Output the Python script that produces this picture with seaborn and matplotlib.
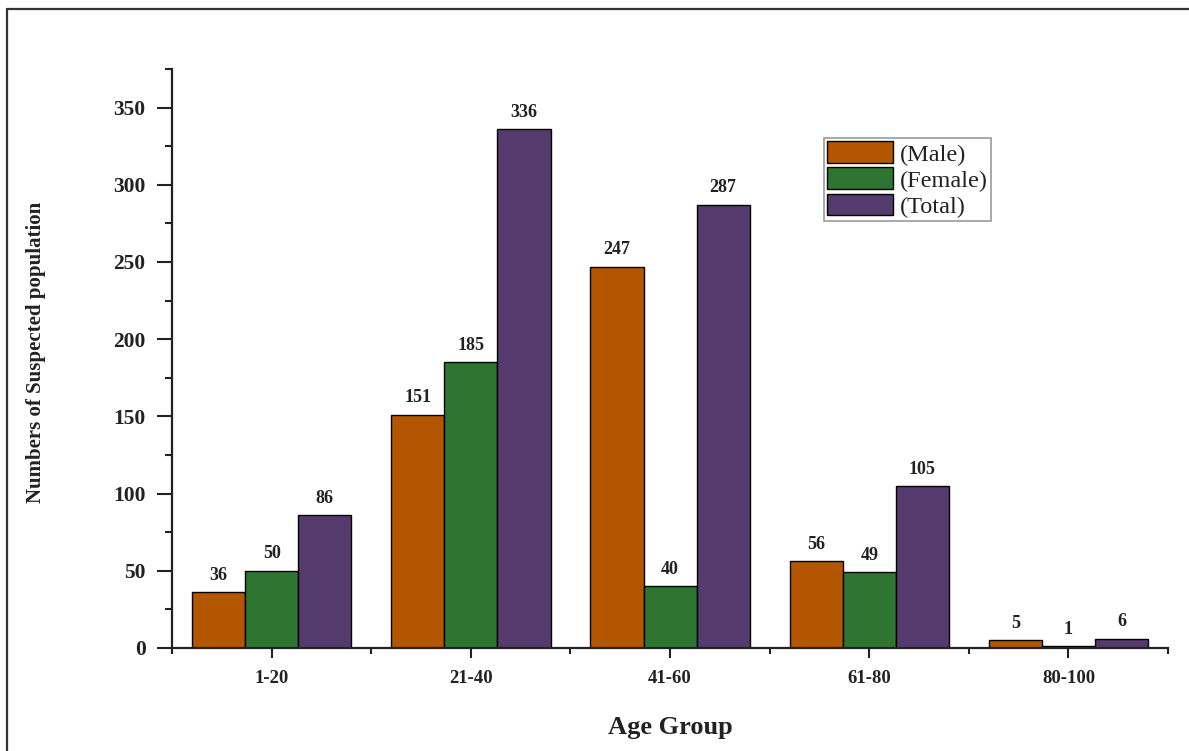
"""Suspected population by age group and sex, grouped bar chart."""

import matplotlib

matplotlib.use("Agg")

import matplotlib.pyplot as plt
import pandas as pd
import seaborn as sns
from matplotlib.lines import Line2D
from matplotlib.ticker import MultipleLocator

age_groups = ["1-20", "21-40", "41-60", "61-80", "80-100"]
series_names = ["(Male)", "(Female)", "(Total)"]
male = [36, 151, 247, 56, 5]
female = [50, 185, 40, 49, 1]
total = [86, 336, 287, 105, 6]
colors = ["#B45500", "#2E7531", "#553A6E"]

sns.set_theme(style="ticks")
plt.rcParams.update(
    {
        "font.family": ["Liberation Serif", "DejaVu Serif"],
        "font.weight": "bold",
        "text.color": "#222222",
        "axes.labelcolor": "#222222",
        "xtick.color": "#222222",
        "ytick.color": "#222222",
        "axes.edgecolor": "#222222",
    }
)

df = pd.DataFrame(
    {
        "age": age_groups * 3,
        "count": male + female + total,
        "series": [s for s in series_names for _ in age_groups],
    }
)

fig = plt.figure(figsize=(11.89, 7.51), dpi=100)
ax = fig.add_axes([0.1447, 0.1372, 0.8377, 0.7710])

sns.barplot(
    data=df,
    x="age",
    y="count",
    hue="series",
    hue_order=series_names,
    palette=colors,
    saturation=1,
    width=0.8,
    edgecolor="black",
    linewidth=1,
    ax=ax,
)

for container in ax.containers:
    ax.bar_label(container, padding=6, fontsize=13, fontweight="bold")

ax.set_xlim(-0.5, 4.5)
ax.set_ylim(0, 375)
ax.yaxis.set_major_locator(MultipleLocator(50))
ax.yaxis.set_minor_locator(MultipleLocator(25))
ax.set_xticks(range(len(age_groups)))
ax.set_xticks([i - 0.5 for i in range(len(age_groups) + 1)], minor=True)
ax.set_xticklabels(age_groups, fontsize=13.5, fontweight="bold")
for lab in ax.get_yticklabels():
    lab.set_fontsize(15.5)
    lab.set_fontweight("bold")

ax.tick_params(axis="y", which="major", length=11, width=1.5, direction="out", pad=8)
ax.tick_params(axis="y", which="minor", length=5, width=1.5, direction="out")
ax.tick_params(axis="x", which="major", length=7, width=1.5, direction="out", pad=9)
ax.tick_params(axis="x", which="minor", length=4, width=1.5, direction="out")

sns.despine(ax=ax)
for side in ("left", "bottom"):
    ax.spines[side].set_linewidth(1.6)

ax.set_xlabel("Age Group", fontsize=19, fontweight="bold")
ax.set_ylabel("Numbers of Suspected population", fontsize=15, fontweight="bold")
ax.xaxis.set_label_coords(0.5, -0.118)
ax.yaxis.set_label_coords(-0.127, 0.51)

leg = ax.legend(
    loc="upper left",
    bbox_to_anchor=(0.655, 0.88),
    frameon=True,
    fancybox=False,
    framealpha=1,
    edgecolor="#999999",
    prop={"family": "Liberation Serif", "size": 17.5, "weight": "normal"},
    handlelength=2.7,
    handleheight=1.0,
    labelspacing=0.08,
    handletextpad=0.3,
    borderpad=0.12,
    borderaxespad=0,
)
leg.get_frame().set_linewidth(1.2)

# outer frame, open on the right and bottom like the source image
fig.add_artist(Line2D([7 / 1189, 1.0], [1 - 8.5 / 751] * 2, color="#333333", lw=1.6, transform=fig.transFigure))
fig.add_artist(Line2D([7 / 1189] * 2, [0.0, 1 - 8.5 / 751], color="#333333", lw=1.6, transform=fig.transFigure))

fig.savefig("out.png", dpi=100)
